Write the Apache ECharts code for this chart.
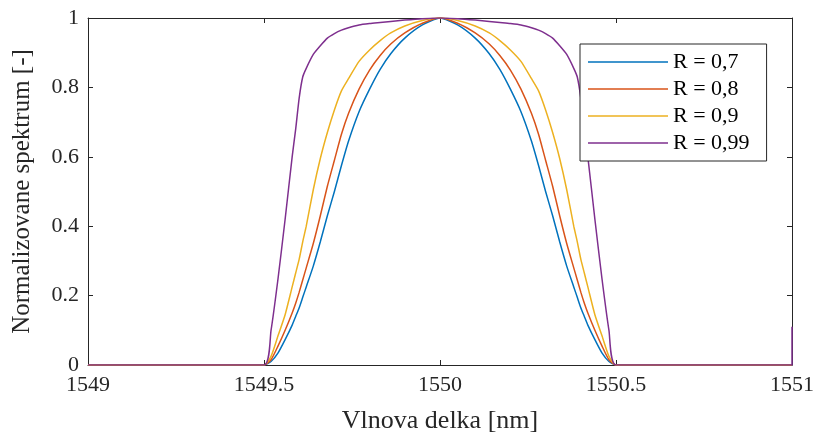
<!DOCTYPE html>
<html>
<head>
<meta charset="utf-8">
<script src="https://cdn.jsdelivr.net/npm/echarts@6/dist/echarts.min.js"></script>
<style>html,body{margin:0;padding:0;background:#fff}#c{width:817px;height:439px}</style>
</head>
<body>
<div id="c"></div>
<script>
const wavelength = [1549, 1549.5, 1549.52, 1549.54, 1549.56, 1549.58, 1549.59, 1549.6, 1549.61, 1549.62, 1549.64, 1549.66, 1549.68, 1549.7, 1549.72, 1549.74, 1549.77, 1549.8, 1549.83, 1549.86, 1549.9, 1549.95,
  1550,
  1550.05, 1550.1, 1550.14, 1550.17, 1550.2, 1550.23, 1550.26, 1550.28, 1550.3, 1550.32, 1550.34, 1550.36, 1550.38, 1550.39, 1550.4, 1550.41, 1550.42, 1550.44, 1550.46, 1550.48, 1550.5, 1551, 1551];
const r07 = [0, 0, 0.010, 0.035, 0.073, 0.115, 0.140, 0.165, 0.195, 0.225, 0.285, 0.355, 0.430, 0.500, 0.575, 0.645, 0.730, 0.795, 0.852, 0.897, 0.942, 0.980,
  1,
  0.980, 0.942, 0.897, 0.852, 0.795, 0.730, 0.645, 0.575, 0.500, 0.430, 0.355, 0.285, 0.225, 0.195, 0.165, 0.140, 0.115, 0.073, 0.035, 0.010, 0, 0, 0];
const r08 = [0, 0, 0.015, 0.055, 0.100, 0.150, 0.178, 0.210, 0.245, 0.280, 0.350, 0.430, 0.515, 0.590, 0.665, 0.725, 0.795, 0.850, 0.892, 0.925, 0.957, 0.985,
  1,
  0.985, 0.957, 0.925, 0.892, 0.850, 0.795, 0.725, 0.665, 0.590, 0.515, 0.430, 0.350, 0.280, 0.245, 0.210, 0.178, 0.150, 0.100, 0.055, 0.015, 0, 0, 0];
const r09 = [0, 0, 0.025, 0.085, 0.145, 0.225, 0.265, 0.305, 0.355, 0.400, 0.505, 0.595, 0.670, 0.735, 0.790, 0.825, 0.875, 0.908, 0.935, 0.957, 0.977, 0.993,
  1,
  0.993, 0.977, 0.957, 0.935, 0.908, 0.875, 0.825, 0.790, 0.735, 0.670, 0.595, 0.505, 0.400, 0.355, 0.305, 0.265, 0.225, 0.145, 0.085, 0.025, 0, 0, 0];
const r099 = [0, 0, 0.10, 0.25, 0.42, 0.60, 0.68, 0.77, 0.83, 0.855, 0.895, 0.92, 0.942, 0.955, 0.965, 0.972, 0.980, 0.984, 0.987, 0.990, 0.994, 0.998,
  1,
  0.998, 0.994, 0.990, 0.987, 0.984, 0.980, 0.972, 0.965, 0.955, 0.942, 0.92, 0.895, 0.855, 0.83, 0.77, 0.68, 0.60, 0.42, 0.25, 0.10, 0, 0, 0.11];
const seriesNames = ['R = 0,7', 'R = 0,8', 'R = 0,9', 'R = 0,99'];
const seriesValues = [r07, r08, r09, r099];
const colors = ['#0072BD', '#D95319', '#EDB120', '#7E2F8E'];
const xTitle = 'Vlnova delka [nm]';
const yTitle = 'Normalizovane spektrum [-]';

const FONT = '"Liberation Serif", "DejaVu Serif", serif';
const AX = '#262626';
const chart = echarts.init(document.getElementById('c'), null, {renderer: 'canvas'});

const series = seriesNames.map((n, i) => ({
  name: n,
  type: 'line',
  xAxisIndex: 0,
  yAxisIndex: 0,
  data: wavelength.map((x, k) => [x, seriesValues[i][k]]),
  symbol: 'none',
  showSymbol: false,
  smooth: 0.2,
  lineStyle: {color: colors[i], width: 1.5},
  itemStyle: {color: colors[i]},
  animation: false
}));

chart.setOption({
  animation: false,
  backgroundColor: '#ffffff',
  grid: {left: 88, right: 24, top: 18, bottom: 74, containLabel: false},
  legend: {
    left: 580, top: 44,
    orient: 'vertical',
    padding: [7, 17, 7, 8],
    icon: 'rect',
    itemWidth: 80, itemHeight: 1.5, itemGap: 5,
    borderColor: AX, borderWidth: 1,
    backgroundColor: '#ffffff',
    textStyle: {fontFamily: FONT, fontSize: 22, color: '#000', lineHeight: 22},
    data: seriesNames
  },
  xAxis: [{
    type: 'value', min: 1549, max: 1551, interval: 0.5,
    name: xTitle, nameLocation: 'middle', nameGap: 43,
    nameTextStyle: {fontFamily: FONT, fontSize: 26, color: AX},
    axisLine: {show: true, onZero: false, lineStyle: {color: AX, width: 1}},
    axisTick: {show: true, inside: true, length: 5, lineStyle: {color: AX}},
    axisLabel: {fontFamily: FONT, fontSize: 22, color: AX, margin: 9, formatter: v => String(v)},
    splitLine: {show: false}
  }, {
    type: 'value', min: 1549, max: 1551, interval: 0.5, position: 'top',
    axisLine: {show: true, onZero: false, lineStyle: {color: AX, width: 1}},
    axisTick: {show: true, inside: true, length: 5, lineStyle: {color: AX}},
    axisLabel: {show: false},
    splitLine: {show: false}
  }],
  yAxis: [{
    type: 'value', min: 0, max: 1, interval: 0.2,
    name: yTitle, nameLocation: 'middle', nameGap: 53, nameRotate: 90,
    nameTextStyle: {fontFamily: FONT, fontSize: 25, color: AX},
    axisLine: {show: true, onZero: false, lineStyle: {color: AX, width: 1}},
    axisTick: {show: true, inside: true, length: 5, lineStyle: {color: AX}},
    axisLabel: {fontFamily: FONT, fontSize: 22, color: AX, margin: 9, formatter: v => String(v)},
    splitLine: {show: false}
  }, {
    type: 'value', min: 0, max: 1, interval: 0.2, position: 'right',
    axisLine: {show: true, onZero: false, lineStyle: {color: AX, width: 1}},
    axisTick: {show: true, inside: true, length: 5, lineStyle: {color: AX}},
    axisLabel: {show: false},
    splitLine: {show: false}
  }],
  series: series
});
</script>
</body>
</html>
